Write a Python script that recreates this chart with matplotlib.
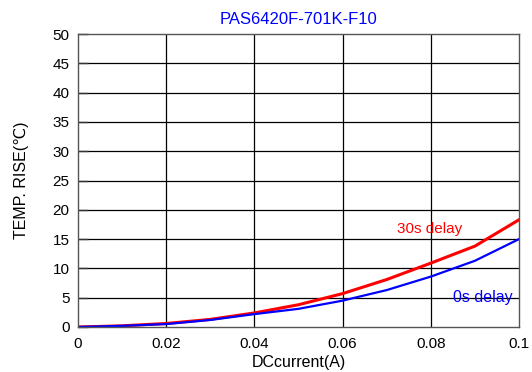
import matplotlib
matplotlib.use('Agg')
import matplotlib.pyplot as plt

plt.rcParams['font.family'] = ['Liberation Sans', 'DejaVu Sans']

# current (A)
current = [0, 0.01, 0.02, 0.03, 0.04, 0.05, 0.06, 0.07, 0.08, 0.09, 0.1]
# temperature rise (C)
rise_30s = [0, 0.2, 0.6, 1.3, 2.4, 3.8, 5.7, 8.1, 10.9, 13.8, 18.3]
rise_0s = [0, 0.2, 0.5, 1.2, 2.2, 3.1, 4.5, 6.3, 8.6, 11.3, 15.0]

xticks = [0, 0.02, 0.04, 0.06, 0.08, 0.1]
xticklabels = ['0', '0.02', '0.04', '0.06', '0.08', '0.1']
yticks = [0, 5, 10, 15, 20, 25, 30, 35, 40, 45, 50]

fig = plt.figure(figsize=(5.32, 3.72), dpi=100)
ax = fig.add_axes([78 / 532, 1 - 327 / 372, (519 - 78) / 532, (327 - 34) / 372])

ax.plot(current, rise_30s, color='#ff0000', lw=2.2)
ax.plot(current, rise_0s, color='#0000ff', lw=1.6)

ax.set_xlim(0, 0.1)
ax.set_ylim(0, 50)
ax.set_xticks(xticks)
ax.set_xticklabels(xticklabels)
ax.set_yticks(yticks)

# grid lines
for y in yticks[1:-1]:
    ax.axhline(y, color='#000000', lw=0.9, zorder=0)
for x in xticks[1:-1]:
    ax.axvline(x, color='#000000', lw=0.9, zorder=0)

for s in ax.spines.values():
    s.set_color('#555555')
    s.set_linewidth(1.0)

ax.tick_params(direction='in', length=7, width=1, labelsize=11, colors='#333333',
               labelcolor='#000000', pad=6)
ax.tick_params(axis='x', length=0, pad=7)

ax.text(0.0798, 16.8, '30s delay', color='#ff0000', fontsize=11, ha='center', va='center')
ax.text(0.0918, 5.1, '0s delay', color='#0000ff', fontsize=11.5, ha='center', va='center')

ax.set_title('PAS6420F-701K-F10', color='#0000ff', fontsize=12, pad=7)
ax.set_xlabel('DCcurrent(A)', fontsize=11.5, labelpad=3)
ax.set_ylabel('TEMP. RISE(\u2103)', fontsize=11.5, labelpad=17)

fig.savefig('out.png', dpi=100)
